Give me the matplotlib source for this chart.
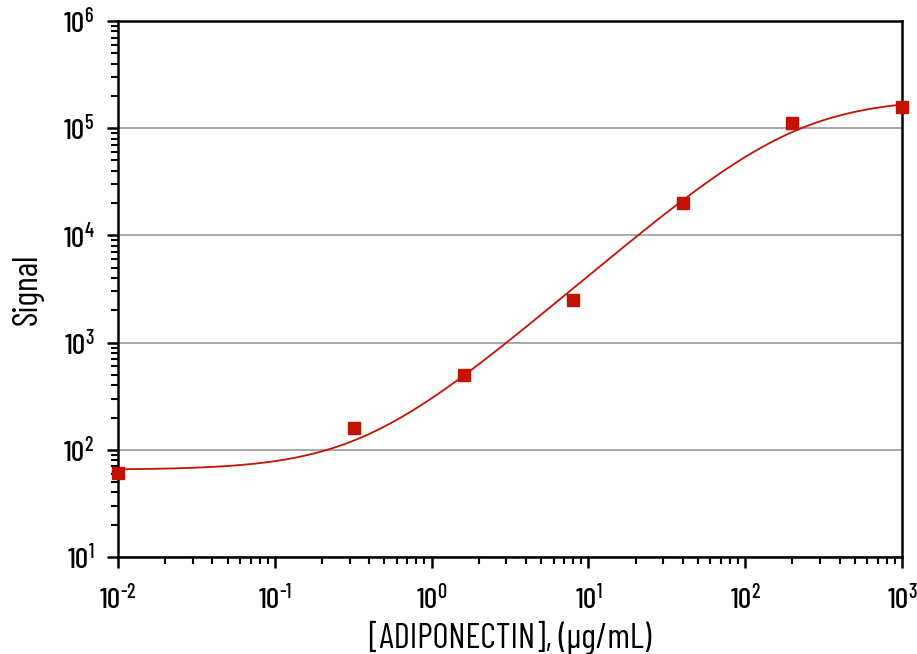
import matplotlib
matplotlib.use('Agg')
import matplotlib.pyplot as plt
import numpy as np
from matplotlib import font_manager
from matplotlib.ticker import LogLocator, NullFormatter

# pick a condensed face close to the original one
names = set(f.name for f in font_manager.fontManager.ttflist)
FONT = 'DejaVu Sans'
for cand in ['Barlow Condensed', 'Roboto Condensed', 'Archivo Narrow', 'PT Sans Narrow', 'Fira Sans Condensed']:
    if cand in names:
        FONT = cand
        break
plt.rcParams['font.family'] = [FONT, 'DejaVu Sans']
plt.rcParams['font.weight'] = 'medium'
plt.rcParams['mathtext.fontset'] = 'custom'
plt.rcParams['mathtext.rm'] = FONT + ':medium'
plt.rcParams['mathtext.it'] = FONT + ':medium'
plt.rcParams['mathtext.default'] = 'rm'

# data
conc = [0.01, 0.32, 1.6, 8, 40, 200, 1000]
signal = [61, 160, 500, 2500, 20000, 112000, 158000]

# 4PL fit parameters (bottom, top, ec50, hill)
bottom, top, ec50, hill = 65, 190000, 210, 1.25

x_ticks = [1e-2, 1e-1, 1e0, 1e1, 1e2, 1e3]
x_labels = ['$10^{\u2010 2}$', '$10^{\u2010 1}$', '$10^{0}$', '$10^{1}$', '$10^{2}$', '$10^{3}$']
y_ticks = [1e1, 1e2, 1e3, 1e4, 1e5, 1e6]
y_labels = ['$10^{1}$', '$10^{2}$', '$10^{3}$', '$10^{4}$', '$10^{5}$', '$10^{6}$']

RED = '#c41200'

fig = plt.figure(figsize=(9.17, 6.54), dpi=100)
ax = fig.add_axes([118/917, 1-557/654, (902-118)/917, (557-21)/654])

xs = np.logspace(-2, 3, 400)
ys = top + (bottom - top) / (1 + (xs / ec50) ** hill)
ax.plot(xs, ys, color=RED, lw=1.3, zorder=3)
ax.plot(conc, signal, 's', color=RED, ms=8.5, zorder=4, clip_on=False)

ax.set_xscale('log')
ax.set_yscale('log')
ax.set_xlim(1e-2, 1e3)
ax.set_ylim(1e1, 1e6)

ax.set_xticks(x_ticks)
ax.set_xticklabels(x_labels)
ax.set_yticks(y_ticks)
ax.set_yticklabels(y_labels)
ax.xaxis.set_minor_locator(LogLocator(base=10, subs=np.arange(2, 10)))
ax.yaxis.set_minor_locator(LogLocator(base=10, subs=np.arange(2, 10)))
ax.xaxis.set_minor_formatter(NullFormatter())
ax.yaxis.set_minor_formatter(NullFormatter())

ax.tick_params(which='major', direction='out', length=8, width=1.8, labelsize=21)
ax.tick_params(axis='x', which='major', pad=12)
ax.tick_params(axis='y', which='major', pad=9)
ax.tick_params(which='minor', direction='out', length=5, width=1.5)
for s in ax.spines.values():
    s.set_linewidth(1.8)

ax.yaxis.grid(True, which='major', color='#999999', lw=1.2)
ax.set_axisbelow(True)

ax.set_xlabel('[ADIPONECTIN], (\u03bcg/mL)', fontsize=25, labelpad=4)
ax.set_ylabel('Signal', fontsize=25, labelpad=14)

fig.savefig('out.png', dpi=100)
